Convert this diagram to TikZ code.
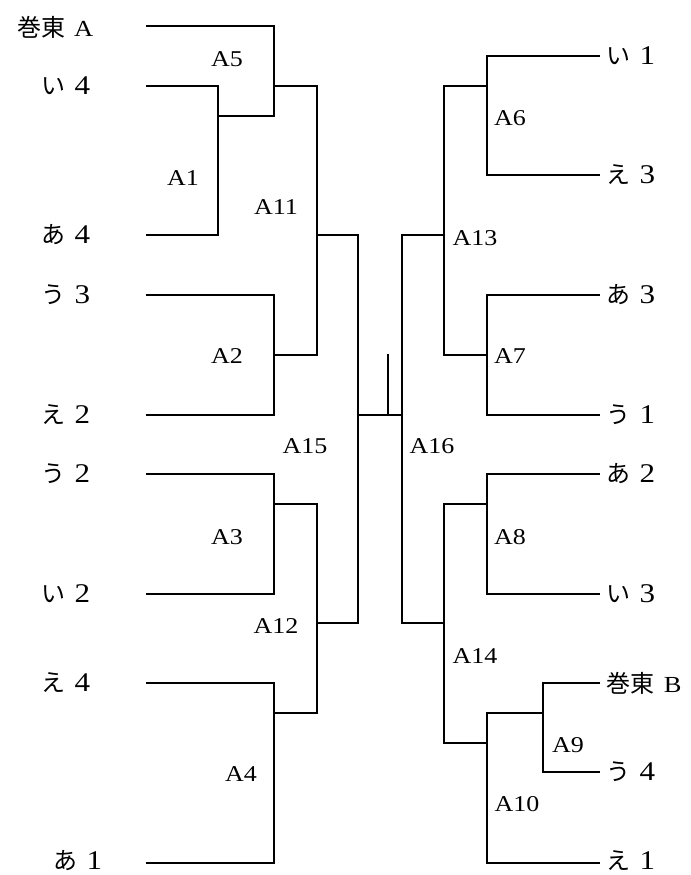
\documentclass[tikz,border=0pt]{standalone}
\usepackage{fontspec}
\setmainfont[FakeStretch=1.15]{Liberation Serif}
\newfontfamily\jp{Noto Sans CJK JP}
\newcommand\kana[1]{{\jp\fontsize{12}{14}\selectfont #1}\hspace{4.5pt}}
\newcommand\capl[1]{{\fontsize{11.5}{13}\selectfont #1}}
\begin{document}
\begin{tikzpicture}[x=0.5pt,y=-0.5pt,line width=0.75pt]
\tikzstyle{every node}=[inner sep=0pt,font=\fontsize{11.3}{13}\selectfont]
\tikzstyle{lleaf}=[anchor=east,font=\fontsize{13.5}{16}\selectfont]
\tikzstyle{rleaf}=[anchor=west,font=\fontsize{13.5}{16}\selectfont]
\useasboundingbox (0,0) rectangle (691,875);
% left side entries
\node[lleaf] at (94,27) (makiA) {\kana{巻東}\capl{A}};
\node[lleaf] at (91,86) (i4) {\kana{い}4};
\node[lleaf] at (91,235) (a4) {\kana{あ}4};
\node[lleaf] at (91,295) (u3) {\kana{う}3};
\node[lleaf] at (91,415) (e2) {\kana{え}2};
\node[lleaf] at (91,474) (u2) {\kana{う}2};
\node[lleaf] at (91,594) (i2) {\kana{い}2};
\node[lleaf] at (91,683) (e4) {\kana{え}4};
\node[lleaf] at (103,861) (a1) {\kana{あ}1};
% right side entries
\node[rleaf] at (606,56) (i1) {\kana{い}1};
\node[rleaf] at (606,175) (e3) {\kana{え}3};
\node[rleaf] at (606,295) (a3) {\kana{あ}3};
\node[rleaf] at (606,415) (u1) {\kana{う}1};
\node[rleaf] at (606,474) (a2) {\kana{あ}2};
\node[rleaf] at (606,594) (i3) {\kana{い}3};
\node[rleaf] at (606,683) (makiB) {\kana{巻東}\capl{B}};
\node[rleaf] at (606,772) (u4) {\kana{う}4};
\node[rleaf] at (606,861) (e1) {\kana{え}1};
% line ends
\coordinate (makiAs) at (146,26); \coordinate (i4s) at (146,86);
\coordinate (a4s) at (146,235);   \coordinate (u3s) at (146,295);
\coordinate (e2s) at (146,415);   \coordinate (u2s) at (146,474);
\coordinate (i2s) at (146,594);   \coordinate (e4s) at (146,683);
\coordinate (a1s) at (146,863);
\coordinate (i1e) at (600,56);    \coordinate (e3e) at (600,175);
\coordinate (a3e) at (600,295);   \coordinate (u1e) at (600,415);
\coordinate (a2e) at (600,474);   \coordinate (i3e) at (600,594);
\coordinate (makiBe) at (600,683); \coordinate (u4e) at (600,772);
\coordinate (e1e) at (600,863);
% junctions
\coordinate (j1) at (218,116);  \coordinate (j2) at (274,355);
\coordinate (j3) at (274,504);  \coordinate (j4) at (274,713);
\coordinate (j5) at (274,86);   \coordinate (j11) at (317,235);
\coordinate (j12) at (317,623); \coordinate (j15) at (358,415);
\coordinate (j16) at (402,415); \coordinate (j13) at (444,235);
\coordinate (j14) at (444,623); \coordinate (j6) at (487,86);
\coordinate (j7) at (487,355);  \coordinate (j8) at (487,504);
\coordinate (j10) at (487,743); \coordinate (j9) at (543,713);
\coordinate (tick) at (388,354);
% match names
\node at (183,178) (A1) {A1};
\node at (227,356) (A2) {A2};
\node at (227,537) (A3) {A3};
\node at (241,774) (A4) {A4};
\node at (227,59) (A5) {A5};
\node at (510,118) (A6) {A6};
\node at (510,356) (A7) {A7};
\node at (510,537) (A8) {A8};
\node at (568,745) (A9) {A9};
\node at (517,804) (A10) {A10};
\node at (276,207) (A11) {A11};
\node at (276,626) (A12) {A12};
\node at (475,238) (A13) {A13};
\node at (475,656) (A14) {A14};
\node at (305,446) (A15) {A15};
\node at (432,446) (A16) {A16};
% brackets
\draw (i4s) -| (j1) |- (a4s)
      (makiAs) -| (j5) |- (j1)
      (u3s) -| (j2) |- (e2s)
      (u2s) -| (j3) |- (i2s)
      (e4s) -| (j4) |- (a1s)
      (j5) -| (j11) |- (j2)
      (j3) -| (j12) |- (j4)
      (j11) -| (j15) |- (j12);
\draw (i1e) -| (j6) |- (e3e)
      (a3e) -| (j7) |- (u1e)
      (a2e) -| (j8) |- (i3e)
      (makiBe) -| (j9) |- (u4e)
      (j9) -| (j10) |- (e1e)
      (j6) -| (j13) |- (j7)
      (j8) -| (j14) |- (j10)
      (j13) -| (j16) |- (j14);
\draw (j15) -- (j16)
      (tick) -- (tick |- j16);
\end{tikzpicture}
\end{document}
